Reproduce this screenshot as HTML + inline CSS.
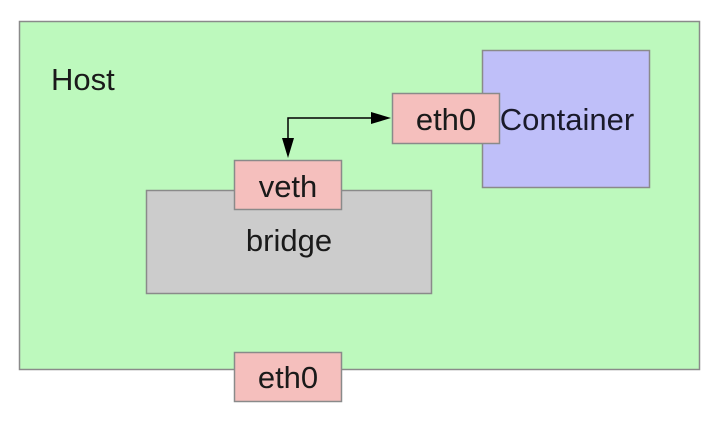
<!DOCTYPE html>
<html><head><style>body{margin:0;background:#fff}</style></head><body>
<svg width="720" height="426" xmlns="http://www.w3.org/2000/svg" font-family="Liberation Sans, sans-serif" font-size="31" fill="#222">
<rect x="19.5" y="21.5" width="680" height="348" fill="#bdf9bd" stroke="#8a8a8a" stroke-width="1.5"/>
<text x="51" y="90" fill="#1a1a1a">Host</text>
<rect x="482.5" y="50.5" width="167" height="137" fill="#bfbff9" stroke="#8a8a8a" stroke-width="1.5"/>
<rect x="146.5" y="190.5" width="285" height="103" fill="#cccccc" stroke="#8a8a8a" stroke-width="1.5"/>
<text x="289" y="251" text-anchor="middle" fill="#1a1a1a">bridge</text>
<rect x="234.5" y="160.5" width="107" height="49" fill="#f5bfbd" stroke="#8a8a8a" stroke-width="1.5"/>
<text x="288" y="197" text-anchor="middle" fill="#1a1a1a">veth</text>
<rect x="392.5" y="93.5" width="107" height="50" fill="#f5bfbd" stroke="#8a8a8a" stroke-width="1.5"/>
<text x="446" y="130" text-anchor="middle" fill="#1a1a1a">eth0</text>
<text x="567" y="130" text-anchor="middle" fill="#1a1a2a">Container</text>
<rect x="234.5" y="352.5" width="107" height="49" fill="#f5bfbd" stroke="#8a8a8a" stroke-width="1.5"/>
<text x="288" y="388" text-anchor="middle" fill="#1a1a1a">eth0</text>
<path d="M288 140 V118 H375" fill="none" stroke="#000" stroke-width="1.5"/>
<polygon points="282,138 294,138 288,158" fill="#000"/>
<polygon points="371,112 371,124 391,118" fill="#000"/>
</svg>
</body></html>
